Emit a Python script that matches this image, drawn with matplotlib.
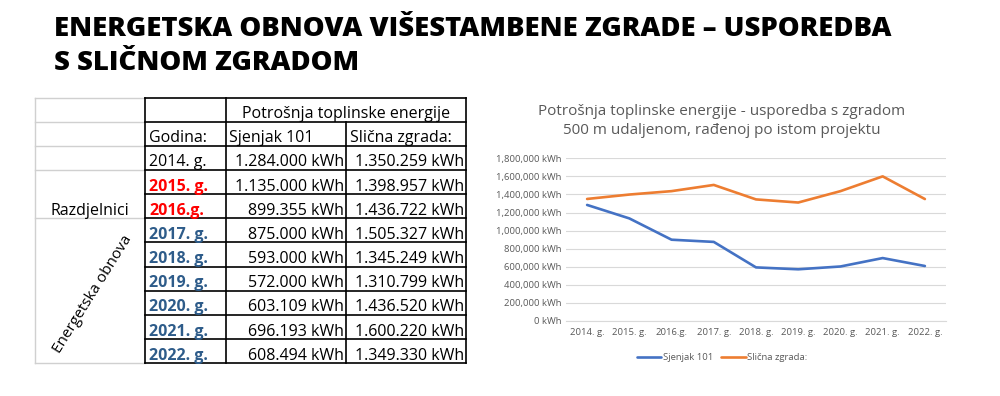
import matplotlib
matplotlib.use("Agg")
import matplotlib.pyplot as plt
from matplotlib.ticker import FuncFormatter
from matplotlib import font_manager as fm
from matplotlib.textpath import TextPath
import numpy as np

# ---------------- data ----------------
years = ["2014. g.", "2015. g.", "2016.g.", "2017. g.", "2018. g.", "2019. g.",
         "2020. g.", "2021. g.", "2022. g."]
sjenjak = [1284000, 1135000, 899355, 875000, 593000, 572000, 603109, 696193, 608494]
slicna = [1350259, 1398957, 1436722, 1505327, 1345249, 1310799, 1436520, 1600220, 1349330]
series_names = ["Sjenjak 101", "Slična zgrada:"]
year_colors = ["#000000", "#FF0000", "#FF0000", "#2E5C8A", "#2E5C8A", "#2E5C8A",
               "#2E5C8A", "#2E5C8A", "#2E5C8A"]
year_bold = [False, True, True, True, True, True, True, True, True]
y_ticks = [0, 200000, 400000, 600000, 800000, 1000000, 1200000, 1400000, 1600000, 1800000]

title_lines = ["ENERGETSKA OBNOVA VIŠESTAMBENE ZGRADE – USPOREDBA", "S SLIČNOM ZGRADOM"]
chart_title = "Potrošnja toplinske energije - usporedba s zgradom\n500 m udaljenom, rađenoj po istom projektu"

W, H = 1000, 396
DPI = 100
fig = plt.figure(figsize=(W / DPI, H / DPI), dpi=DPI)
fig.patch.set_facecolor("white")

# ---- choose a bold sans face whose proportions match the headline ----
TARGET_CAP_PX = 19.5
TARGET_W_PX = 838.0
PREFIXES = ("Noto Sans", "Open Sans", "Roboto", "Lato", "Liberation Sans", "DejaVu Sans")

def headline_font():
    best = None
    seen = set()
    for f in fm.fontManager.ttflist:
        name = f.name
        pref = [p for p in PREFIXES if name.startswith(p)]
        if not pref:
            continue
        rest = name[len(pref[0]):]
        if rest and not any(k in rest for k in ("Cond", "cond", "Narrow")):
            continue
        w = f.weight if isinstance(f.weight, int) else (700 if "bold" in str(f.weight).lower() else 400)
        if w < 700 or w > 800 or str(f.style) != "normal":
            continue
        low = f.fname.lower()
        if any(s in low for s in ["italic", "oblique", "mono", ".ttc"]):
            continue
        if f.fname in seen:
            continue
        seen.add(f.fname)
        try:
            fp = fm.FontProperties(fname=f.fname)
            cap = TextPath((0, 0), "E", size=1, prop=fp).get_extents().height
            wid = TextPath((0, 0), title_lines[0], size=1, prop=fp).get_extents().width
        except Exception:
            continue
        if cap <= 0:
            continue
        size_pt = TARGET_CAP_PX / (cap * DPI / 72.0)
        width_px = wid * size_pt * DPI / 72.0
        err = abs(width_px - TARGET_W_PX)
        if best is None or err < best[0]:
            best = (err, fp, size_pt, wid)
    if best is None:
        return fm.FontProperties(family="DejaVu Sans", weight="bold"), 19.0
    err, fp, size_pt, wid = best
    size_w = TARGET_W_PX / (wid * DPI / 72.0)
    return fp, (size_pt * size_w) ** 0.5

title_fp, title_size = headline_font()

# overlay axes in pixel coordinates for title + table
ov = fig.add_axes([0, 0, 1, 1])
ov.set_xlim(0, W)
ov.set_ylim(H, 0)
ov.axis("off")

TFONT = "Open Sans"

# ---------------- main title ----------------
for yb, line in zip([36, 70], title_lines):
    t = ov.text(54, yb, line, fontproperties=title_fp, ha="left", va="baseline", color="black")
    t.set_fontsize(title_size)

# ---------------- table ----------------
col_x = [35, 145, 226, 346, 466]
top = 97.5
rh = 24.16
n_rows = 11
row_y = [top + i * rh for i in range(n_rows + 1)]
fs = 11.5
gray = "#D0D0D0"

# light gray lines (label column)
ov.plot([col_x[0], col_x[0]], [row_y[0], row_y[-1]], color=gray, lw=1)
for i in [0, 1, 2, 3, 5, 11]:
    ov.plot([col_x[0], col_x[1]], [row_y[i], row_y[i]], color=gray, lw=1)

# black grid
for i in range(n_rows + 1):
    ov.plot([col_x[1], col_x[4]], [row_y[i], row_y[i]], color="black", lw=1.2)
for j in [1, 2, 4]:
    ov.plot([col_x[j], col_x[j]], [row_y[0], row_y[-1]], color="black", lw=1.2)
ov.plot([col_x[3], col_x[3]], [row_y[1], row_y[-1]], color="black", lw=1.2)

def base(r):
    return row_y[r + 1] - 3.5

ov.text((col_x[2] + col_x[4]) / 2, base(0), "Potrošnja toplinske energije",
        fontsize=fs, family=TFONT, ha="center", va="baseline")
ov.text(col_x[1] + 4, base(1), "Godina:", fontsize=fs, family=TFONT, ha="left", va="baseline")
ov.text(col_x[2] + 3, base(1), series_names[0], fontsize=fs, family=TFONT, ha="left", va="baseline")
ov.text(col_x[3] + 4, base(1), series_names[1], fontsize=fs, family=TFONT, ha="left", va="baseline")

def fmt_dot(v):
    return f"{v:,}".replace(",", ".") + " kWh"

for k, yl in enumerate(years):
    r = k + 2
    ov.text(col_x[1] + 4, base(r), yl, fontsize=fs, family=TFONT, ha="left", va="baseline",
            color=year_colors[k], fontweight="bold" if year_bold[k] else "normal")
    ov.text(col_x[3] - 2, base(r), fmt_dot(sjenjak[k]), fontsize=fs, family=TFONT,
            ha="right", va="baseline")
    ov.text(col_x[4] - 1.5, base(r), fmt_dot(slicna[k]), fontsize=fs, family=TFONT,
            ha="right", va="baseline")

ov.text((col_x[0] + col_x[1]) / 2, base(4), "Razdjelnici", fontsize=fs, family=TFONT,
        ha="center", va="baseline")
ov.text(93, 294, "Energetska obnova", fontsize=11, family=TFONT, ha="center", va="center",
        rotation=58, rotation_mode="anchor")

# ---------------- chart ----------------
ax_l, ax_r = 566, 946
ax_t, ax_b = 158.3, 321
ax = fig.add_axes([ax_l / W, 1 - ax_b / H, (ax_r - ax_l) / W, (ax_b - ax_t) / H])
x = np.arange(len(years))
ax.plot(x, sjenjak, color="#4472C4", lw=1.9, label=series_names[0], solid_capstyle="round")
ax.plot(x, slicna, color="#ED7D31", lw=1.9, label=series_names[1], solid_capstyle="round")
ax.set_xlim(-0.5, len(years) - 0.5)
ax.set_ylim(0, 1800000)
ax.set_yticks(y_ticks)
ax.yaxis.set_major_formatter(FuncFormatter(lambda v, p: f"{int(v):,} kWh"))
ax.set_xticks(x)
ax.set_xticklabels(years)
ax.grid(axis="y", color="#D9D9D9", lw=0.8)
ax.set_axisbelow(True)
for s in ["top", "right", "left"]:
    ax.spines[s].set_visible(False)
ax.spines["bottom"].set_color("#D9D9D9")
ax.spines["bottom"].set_linewidth(0.8)
ax.tick_params(axis="both", length=0, labelsize=6.8, labelcolor="#595959", pad=3)
for lbl in ax.get_xticklabels() + ax.get_yticklabels():
    lbl.set_family(TFONT)
ax.tick_params(axis="x", pad=5)

ov.text(722, 121, chart_title, fontsize=11, family=TFONT, color="#595959",
        ha="center", va="center", linespacing=1.35)

leg = fig.legend(*ax.get_legend_handles_labels(), loc="center",
                 bbox_to_anchor=(722 / W, 1 - 358 / H), ncol=2, frameon=False,
                 prop={"family": TFONT, "size": 6.8}, handlelength=2.6, handletextpad=0.15,
                 columnspacing=0.85)
for t in leg.get_texts():
    t.set_color("#595959")

fig.savefig("out.png", dpi=DPI, facecolor="white")
